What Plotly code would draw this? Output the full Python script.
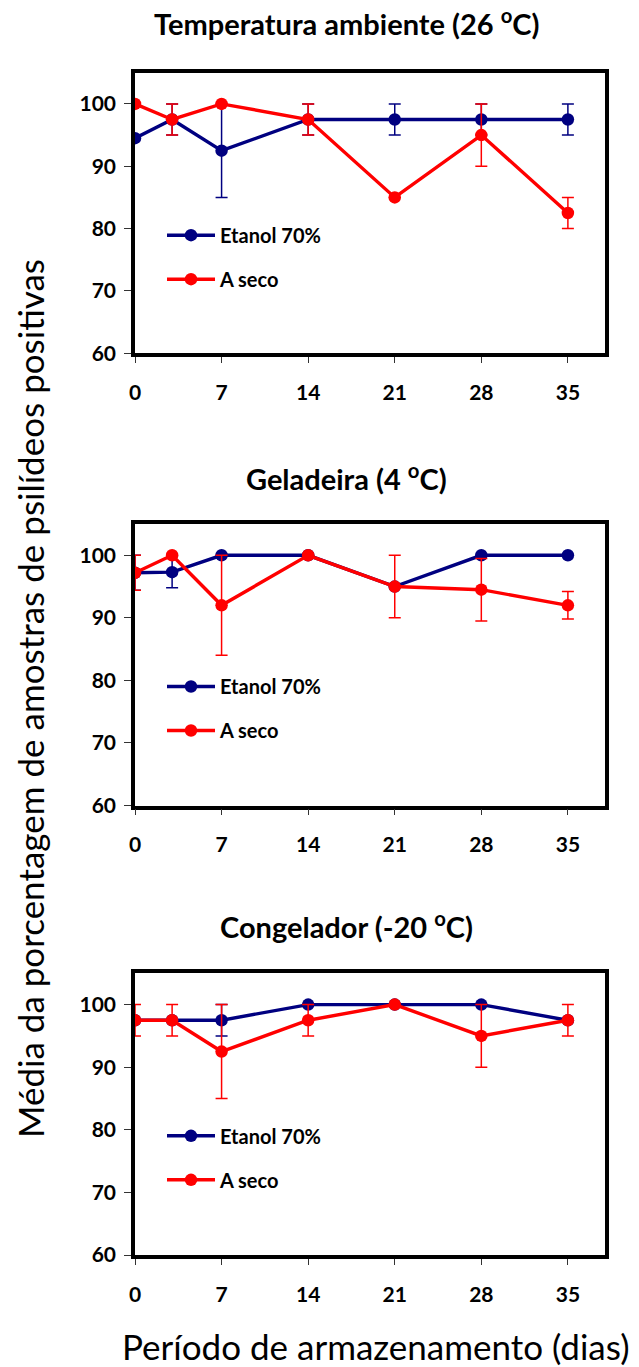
import plotly.graph_objects as go

W, H = 639, 1367

days = [0, 3, 7, 14, 21, 28, 35]
x_ticks = [0, 7, 14, 21, 28, 35]
y_ticks = [60, 70, 80, 90, 100]

panel_titles = ["Temperatura ambiente (26 <sup>o</sup>C)",
                "Geladeira (4 <sup>o</sup>C)",
                "Congelador (-20 <sup>o</sup>C)"]
series_names = ["Etanol 70%", "A seco"]

# Temperatura ambiente
etanol_amb = [94.5, 97.5, 92.5, 97.5, 97.5, 97.5, 97.5]
etanol_amb_err = [0, 2.5, 7.5, 2.5, 2.5, 2.5, 2.5]
seco_amb = [100, 97.5, 100, 97.5, 85, 95, 82.5]
seco_amb_err = [0, 2.5, 0, 2.5, 0, 5, 2.5]

# Geladeira
etanol_gel = [97.2, 97.3, 100, 100, 95, 100, 100]
etanol_gel_err = [2.8, 2.5, 0, 0, 0, 0, 0]
seco_gel = [97.2, 100, 92, 100, 95, 94.5, 92]
seco_gel_err = [2.8, 0, 8, 0, 5, 5, 2.2]

# Congelador
etanol_cong = [97.5, 97.5, 97.5, 100, 100, 100, 97.5]
etanol_cong_err = [0, 0, 2.5, 0, 0, 0, 0]
seco_cong = [97.5, 97.5, 92.5, 97.5, 100, 95, 97.5]
seco_cong_err = [2.5, 2.5, 7.5, 2.5, 0, 5, 2.5]

panels = [
    (etanol_amb, etanol_amb_err, seco_amb, seco_amb_err),
    (etanol_gel, etanol_gel_err, seco_gel, seco_gel_err),
    (etanol_cong, etanol_cong_err, seco_cong, seco_cong_err),
]

BLUE = "#000080"
RED = "#ff0000"
FONT = "Lato"

# pixel geometry of plot boxes (top, bottom)
boxes = [(72.7, 353.3), (524, 805.5), (973.3, 1255)]
x_left, x_right = 135, 605

def px_y(v):
    return 1 - v / H

fig = go.Figure()

def clean(err):
    return [e if e else None for e in err]

for i, (et, et_e, se, se_e) in enumerate(panels):
    n = "" if i == 0 else str(i + 1)
    leg = "legend" if i == 0 else f"legend{i+1}"
    for name, vals, errs, col in [(series_names[0], et, et_e, BLUE),
                                  (series_names[1], se, se_e, RED)]:
        fig.add_trace(go.Scatter(
            x=days, y=vals, name=name, mode="lines+markers",
            line=dict(color=col, width=3.4),
            marker=dict(color=col, size=12.5),
            error_y=dict(type="data", array=clean(errs), visible=True,
                         color=col, thickness=1.5, width=6),
            xaxis="x" + n, yaxis="y" + n,
            legend=leg, legendgroup=f"{name}{i}",
            showlegend=True,
        ))

layout = dict(
    width=W, height=H, margin=dict(l=0, r=0, t=0, b=0, autoexpand=False),
    plot_bgcolor="white", paper_bgcolor="white",
    font=dict(family=FONT, color="black"),
    annotations=[],
)

for i, (top, bot) in enumerate(boxes):
    n = "" if i == 0 else str(i + 1)
    layout["xaxis" + n] = dict(
        domain=[x_left / W, x_right / W], range=[0, 38],
        anchor="y" + n, tickvals=x_ticks, automargin=False,
        showline=True, linewidth=3.5, linecolor="black", mirror=True,
        ticks="outside", ticklen=6, tickwidth=1.3, tickcolor="#333",
        showgrid=False, zeroline=False,
        tickfont=dict(size=21, family=FONT, weight="bold"),
        ticklabelstandoff=12,
    )
    layout["yaxis" + n] = dict(
        domain=[px_y(bot), px_y(top)], range=[60, 105],
        anchor="x" + n, tickvals=y_ticks, automargin=False,
        showline=True, linewidth=3.5, linecolor="black", mirror=True,
        ticks="outside", ticklen=7, tickwidth=1.3, tickcolor="#333",
        showgrid=False, zeroline=False,
        tickfont=dict(size=21, family=FONT, weight="bold"),
        ticklabelstandoff=4,
    )
    leg = "legend" if i == 0 else f"legend{i+1}"
    layout[leg] = dict(
        x=162 / W, y=px_y(top + 143), xanchor="left", yanchor="top",
        bgcolor="rgba(0,0,0,0)", font=dict(size=20, family=FONT, weight="bold"),
        tracegroupgap=15, itemwidth=48,
    )
    title_y = [22, 477, 925][i]
    layout["annotations"].append(dict(
        text="<b>" + panel_titles[i] + "</b>", x=347 / W, y=px_y(title_y),
        xref="paper", yref="paper", xanchor="center", yanchor="middle",
        showarrow=False, font=dict(size=29, family=FONT)))

layout["annotations"].append(dict(
    text="Média da porcentagem de amostras de psilídeos positivas",
    x=30 / W, y=px_y(699), xref="paper", yref="paper",
    xanchor="center", yanchor="middle", textangle=-90, showarrow=False,
    font=dict(size=35, family=FONT)))
layout["annotations"].append(dict(
    text="Período de armazenamento (dias)",
    x=376 / W, y=px_y(1346), xref="paper", yref="paper",
    xanchor="center", yanchor="middle", showarrow=False,
    font=dict(size=35, family=FONT)))

fig.update_layout(**layout)
fig.write_html(
    "out.html",
    config={"displayModeBar": False},
    post_script="document.body.style.margin='0';document.body.style.overflow='hidden';",
)
